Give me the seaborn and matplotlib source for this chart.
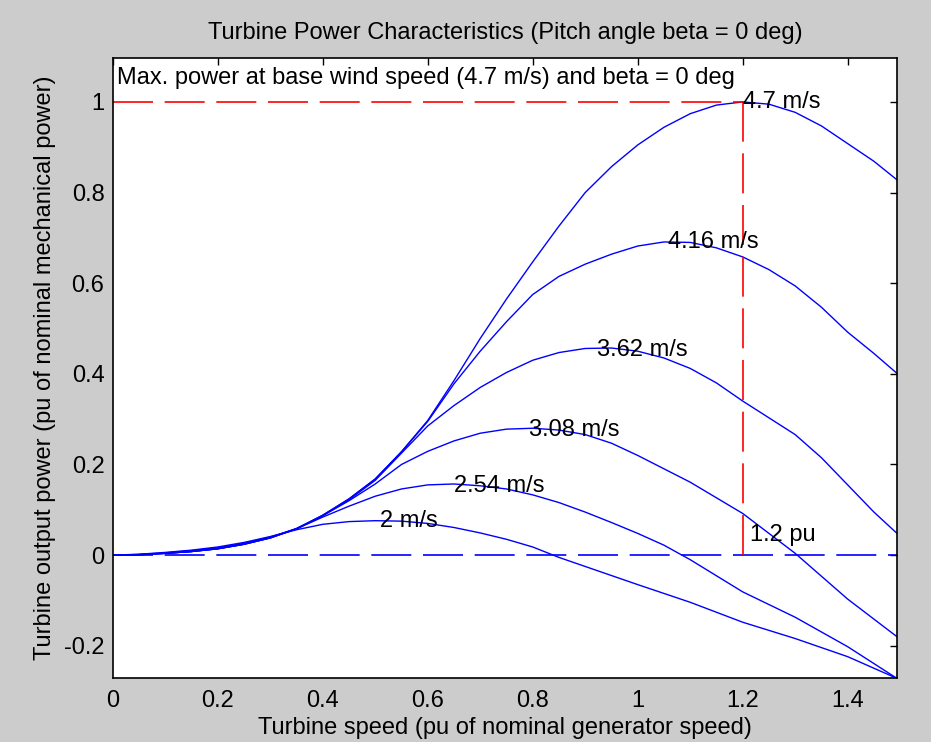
import numpy as np
import pandas as pd
import seaborn as sns
import matplotlib.pyplot as plt

# Curves: turbine speed (pu) -> output power (pu)
wind_labels = ['2 m/s', '2.54 m/s', '3.08 m/s', '3.62 m/s', '4.16 m/s', '4.7 m/s']

speed_2 = [0, 0.05, 0.1, 0.15, 0.2, 0.25, 0.3, 0.35, 0.4, 0.45, 0.5, 0.55, 0.6, 0.65,
           0.7, 0.75, 0.8, 0.85, 0.9, 1.0, 1.1, 1.2, 1.3, 1.4, 1.494]
power_2 = [0, 0.002, 0.006, 0.011, 0.018, 0.028, 0.041, 0.056, 0.068, 0.074, 0.076, 0.075, 0.070, 0.061,
           0.049, 0.035, 0.018, -0.005, -0.025, -0.065, -0.104, -0.148, -0.184, -0.224, -0.272]

speed_254 = [0, 0.05, 0.1, 0.15, 0.2, 0.25, 0.3, 0.35, 0.4, 0.45, 0.5, 0.55, 0.6, 0.65, 0.7,
             0.75, 0.8, 0.85, 0.9, 0.95, 1.0, 1.05, 1.1, 1.2, 1.3, 1.4, 1.494]
power_254 = [0, 0.0015, 0.005, 0.01, 0.016, 0.026, 0.04, 0.058, 0.084, 0.108, 0.13, 0.146, 0.155, 0.157, 0.153,
             0.146, 0.133, 0.116, 0.095, 0.072, 0.048, 0.022, -0.01, -0.081, -0.137, -0.202, -0.272]

speed_308 = [0, 0.05, 0.1, 0.15, 0.2, 0.25, 0.3, 0.35, 0.4, 0.45, 0.5, 0.55, 0.6, 0.65, 0.7,
             0.75, 0.8, 0.85, 0.9, 0.95, 1.0, 1.1, 1.2, 1.3, 1.4, 1.494]
power_308 = [0, 0.001, 0.004, 0.008, 0.015, 0.025, 0.039, 0.059, 0.087, 0.12, 0.157, 0.2, 0.229, 0.252, 0.269,
             0.278, 0.28, 0.276, 0.266, 0.247, 0.22, 0.161, 0.092, 0.004, -0.097, -0.18]

speed_362 = [0, 0.05, 0.1, 0.15, 0.2, 0.25, 0.3, 0.35, 0.4, 0.45, 0.5, 0.55, 0.6, 0.65, 0.7, 0.75,
             0.8, 0.85, 0.9, 0.95, 1.0, 1.05, 1.1, 1.15, 1.2, 1.25, 1.3, 1.35, 1.4, 1.45, 1.494]
power_362 = [0, 0.001, 0.004, 0.008, 0.014, 0.024, 0.038, 0.058, 0.087, 0.122, 0.165, 0.225, 0.285, 0.33, 0.37, 0.403,
             0.43, 0.447, 0.456, 0.457, 0.45, 0.435, 0.412, 0.38, 0.34, 0.303, 0.266, 0.215, 0.155, 0.095, 0.048]

speed_416 = [0, 0.05, 0.1, 0.15, 0.2, 0.25, 0.3, 0.35, 0.4, 0.45, 0.5, 0.55, 0.6, 0.65, 0.7, 0.75,
             0.8, 0.85, 0.9, 0.95, 1.0, 1.05, 1.1, 1.15, 1.2, 1.25, 1.3, 1.35, 1.4, 1.45, 1.494]
power_416 = [0, 0.001, 0.004, 0.008, 0.014, 0.024, 0.038, 0.058, 0.088, 0.124, 0.168, 0.228, 0.295, 0.378, 0.45, 0.515,
             0.575, 0.615, 0.642, 0.664, 0.682, 0.691, 0.69, 0.678, 0.658, 0.63, 0.594, 0.547, 0.492, 0.445, 0.401]

speed_47 = [0, 0.05, 0.1, 0.15, 0.2, 0.25, 0.3, 0.35, 0.4, 0.45, 0.5, 0.55, 0.6, 0.65, 0.7, 0.75,
            0.8, 0.85, 0.9, 0.95, 1.0, 1.05, 1.1, 1.15, 1.2, 1.25, 1.3, 1.35, 1.4, 1.45, 1.494]
power_47 = [0, 0.001, 0.004, 0.008, 0.014, 0.024, 0.038, 0.058, 0.088, 0.124, 0.168, 0.228, 0.297, 0.385, 0.478, 0.565,
            0.647, 0.726, 0.8, 0.857, 0.905, 0.944, 0.974, 0.993, 1.0, 0.995, 0.977, 0.947, 0.908, 0.869, 0.828]

# label anchors (curve peaks)
label_x = [0.51, 0.65, 0.793, 0.922, 1.058, 1.2]
label_y = [0.075, 0.152, 0.276, 0.452, 0.69, 1.0]

base_speed = 1.2   # pu
max_power = 1.0    # pu
speed_max = 1.494

speeds = [speed_2, speed_254, speed_308, speed_362, speed_416, speed_47]
powers = [power_2, power_254, power_308, power_362, power_416, power_47]

frames = []
for lab, s, p in zip(wind_labels, speeds, powers):
    frames.append(pd.DataFrame({'speed': s, 'power': p, 'wind': lab}))
df = pd.concat(frames, ignore_index=True)

sns.set_style('white')
plt.rcParams['font.family'] = ['Liberation Sans', 'DejaVu Sans']
plt.rcParams['text.color'] = 'black'
plt.rcParams['axes.labelcolor'] = 'black'
fs = 17

fig = plt.figure(figsize=(9.31, 7.42), dpi=100, facecolor='#cccccc')
ax = fig.add_axes([0.1211, 0.0863, 0.8424, 0.8356])
ax.set_facecolor('white')

sns.lineplot(data=df, x='speed', y='power', units='wind', estimator=None, sort=False,
             color='blue', lw=1.0, ax=ax, legend=False)

# reference lines
ax.plot([0, speed_max], [0, 0], color='blue', lw=1.2, dashes=(24, 7))
ax.plot([0, base_speed], [max_power, max_power], color='red', lw=1.2, dashes=(24, 7))
ax.plot([base_speed, base_speed], [0, max_power], color='red', lw=1.2, dashes=(24, 7))

for lab, x, y in zip(wind_labels, label_x, label_y):
    ax.text(x, y, lab, fontsize=fs, va='center', ha='left', color='black')
ax.text(base_speed + 0.014, 0.044, '1.2 pu', fontsize=fs, va='center', ha='left', color='black')
ax.text(0.008, 1.053, 'Max. power at base wind speed (4.7 m/s) and beta = 0 deg',
        fontsize=fs, va='center', ha='left', color='black')

ax.set_xlim(0, speed_max)
ax.set_ylim(-0.271, 1.097)
ax.set_xticks([0, 0.2, 0.4, 0.6, 0.8, 1.0, 1.2, 1.4])
ax.set_xticklabels(['0', '0.2', '0.4', '0.6', '0.8', '1', '1.2', '1.4'])
ax.set_yticks([-0.2, 0, 0.2, 0.4, 0.6, 0.8, 1.0])
ax.set_yticklabels(['-0.2', '0', '0.2', '0.4', '0.6', '0.8', '1'])
ax.tick_params(direction='in', length=5, width=1, top=True, right=True,
               labelsize=fs, colors='black')
ax.tick_params(axis='x', pad=9)
ax.tick_params(axis='y', pad=6)
for sp in ax.spines.values():
    sp.set_color('black')
    sp.set_linewidth(1.2)

ax.set_xlabel('Turbine speed (pu of nominal generator speed)', fontsize=fs, labelpad=3, color='black')
ax.set_ylabel('Turbine output power (pu of nominal mechanical power)', fontsize=fs, labelpad=6, color='black')
ax.set_title('Turbine Power Characteristics (Pitch angle beta = 0 deg)', fontsize=fs, pad=14, color='black')

fig.savefig('out.png', dpi=100, facecolor=fig.get_facecolor())
